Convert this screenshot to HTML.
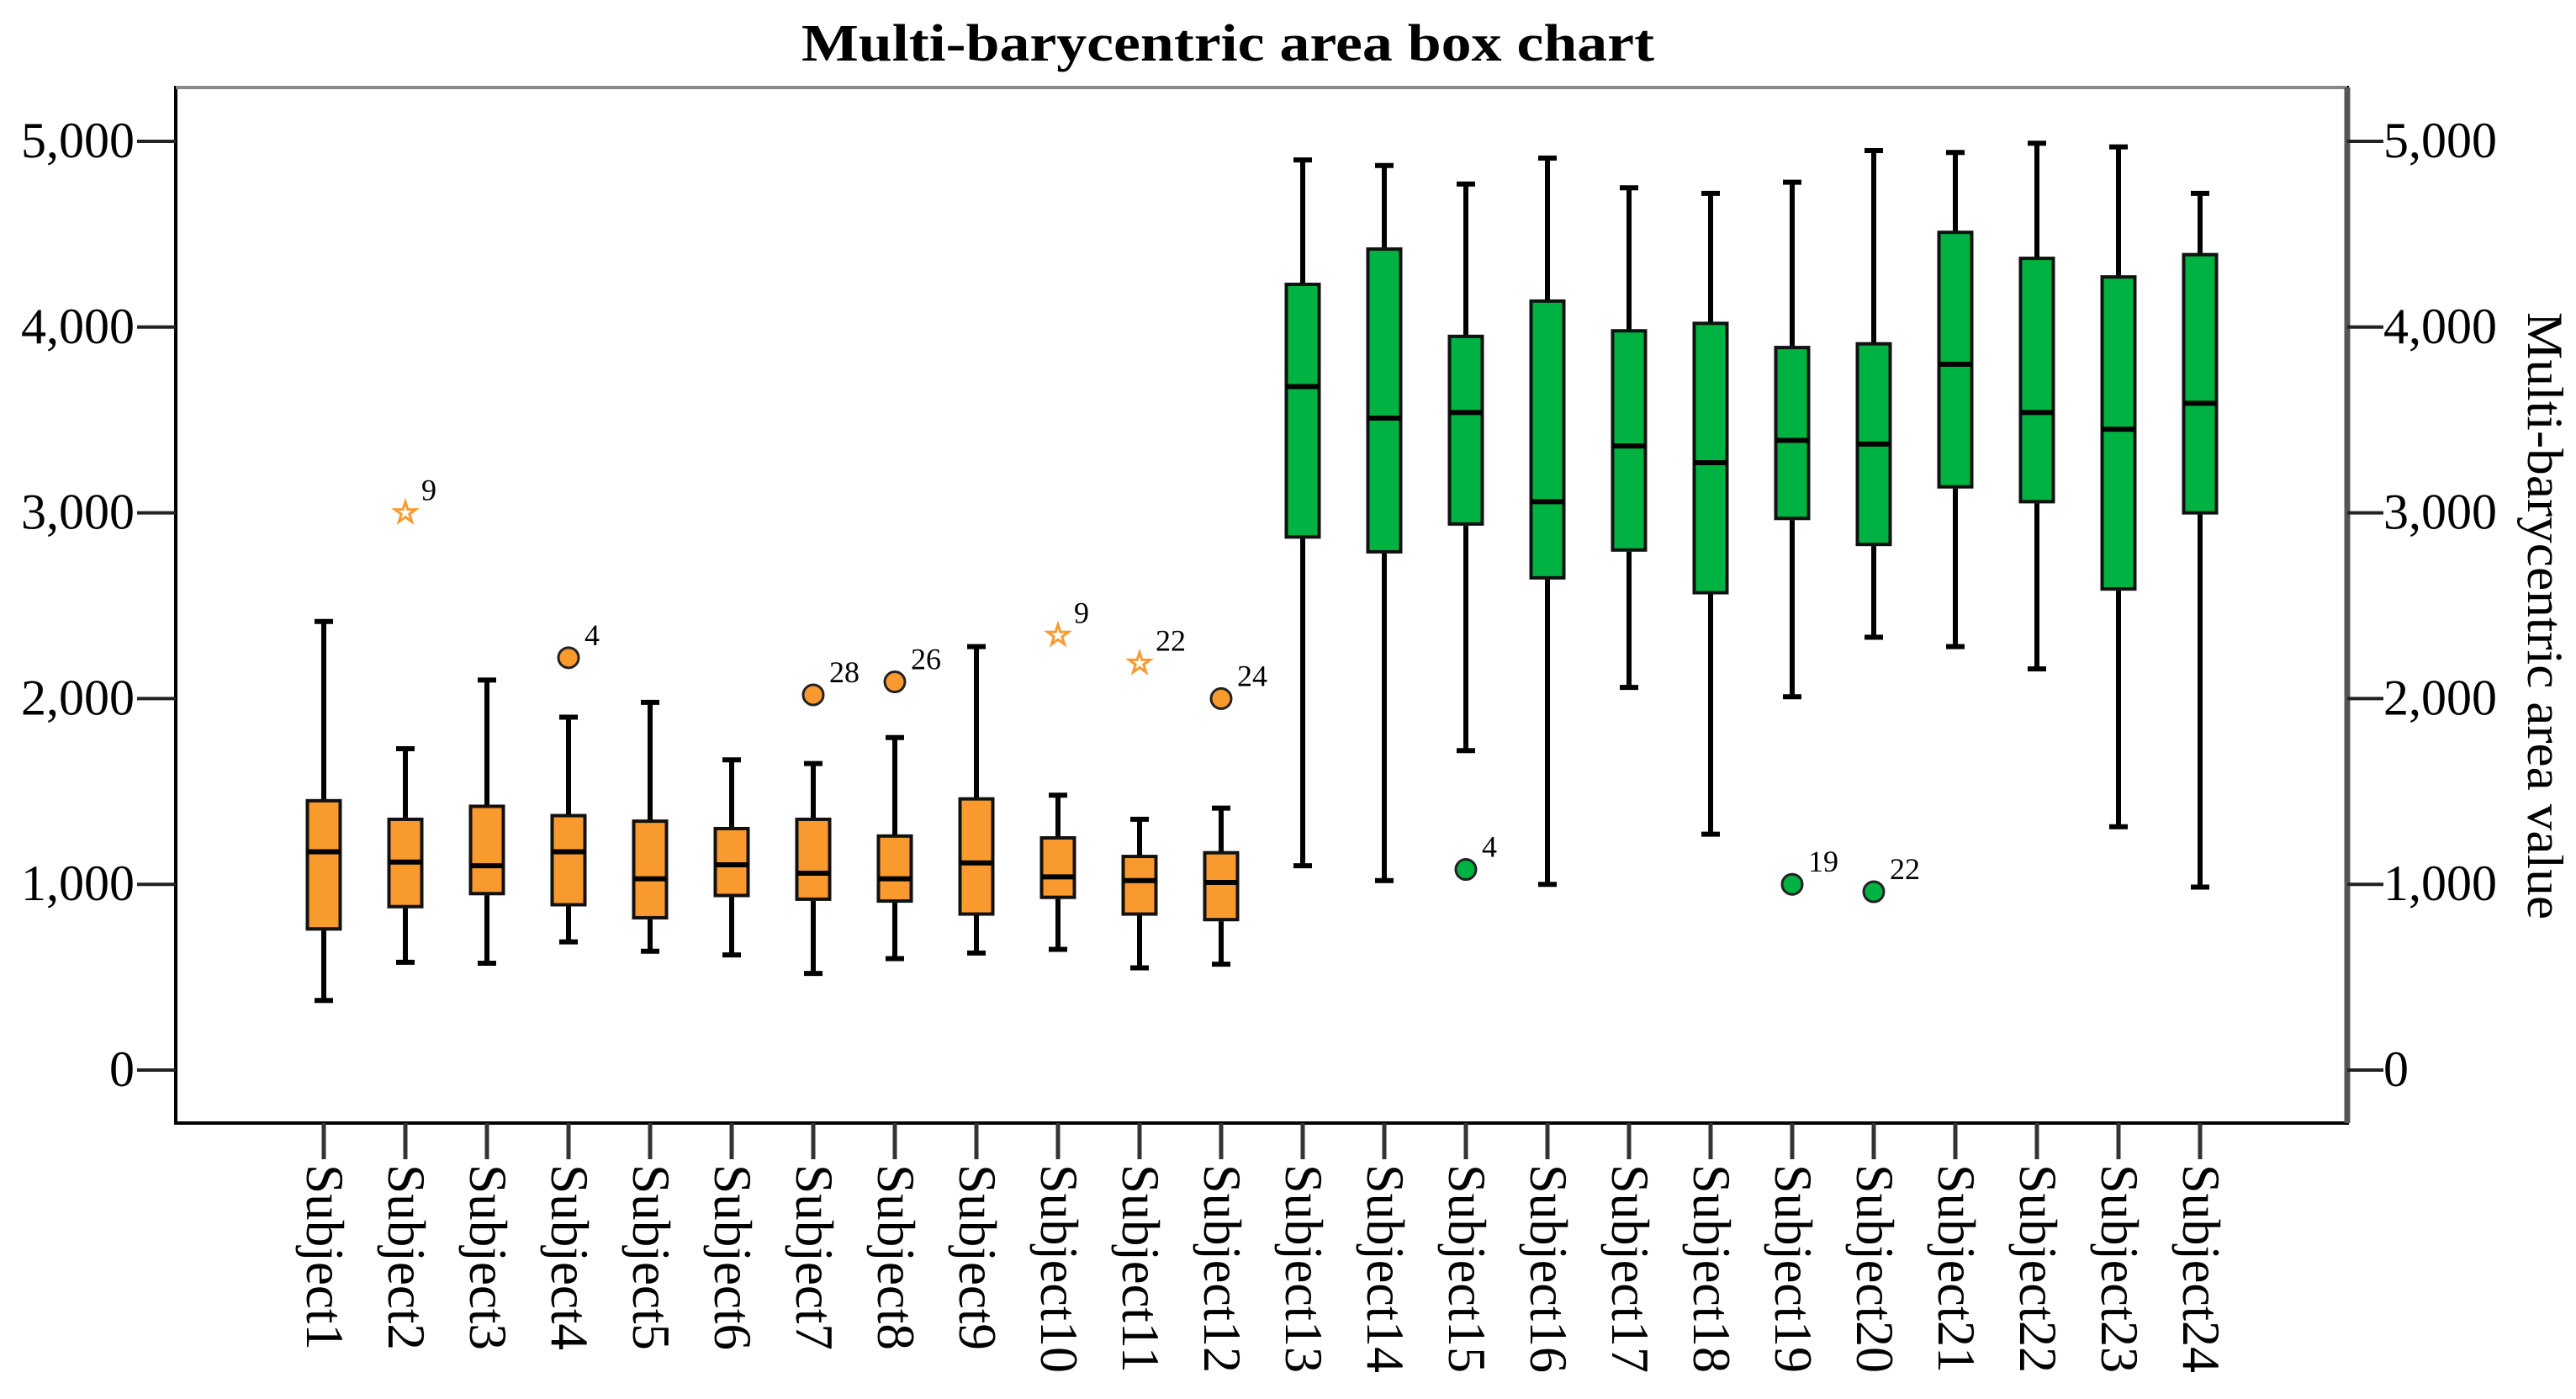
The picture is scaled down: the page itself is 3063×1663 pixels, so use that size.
<!DOCTYPE html>
<html><head><meta charset="utf-8"><style>
html,body{margin:0;padding:0;background:#fff;}
svg{display:block;}
text{font-family:"Liberation Serif",serif;fill:#000;}
</style></head><body>
<svg id="chart" width="3063" height="1663" viewBox="0 0 3063 1663" xmlns="http://www.w3.org/2000/svg">
<text x="1460" y="72" text-anchor="middle" font-size="62" font-weight="bold" textLength="1014" lengthAdjust="spacingAndGlyphs">Multi-barycentric area box chart</text>
<rect x="209" y="104" width="2582" height="1231" fill="none" stroke="#000" stroke-width="4"/>
<line x1="209" y1="104" x2="2791" y2="104" stroke="#888" stroke-width="4"/>
<line x1="2791" y1="104" x2="2791" y2="1335" stroke="#555" stroke-width="7"/>
<g id="yaxis-left"></g>
<g id="yaxis-right"></g>
<g id="boxes"></g>
<g id="xaxis"></g>
<text transform="translate(3006,732) rotate(90)" text-anchor="middle" font-size="60" textLength="722" lengthAdjust="spacingAndGlyphs">Multi-barycentric area value</text>
</svg>
<script>
const categories=["Subject1","Subject2","Subject3","Subject4","Subject5","Subject6","Subject7","Subject8","Subject9","Subject10","Subject11","Subject12","Subject13","Subject14","Subject15","Subject16","Subject17","Subject18","Subject19","Subject20","Subject21","Subject22","Subject23","Subject24"];
const groups=["o","o","o","o","o","o","o","o","o","o","o","o","g","g","g","g","g","g","g","g","g","g","g","g"];
const whiskerLow=[375,580,575,690,640,620,520,600,630,650,550,570,1100,1020,1720,1000,2060,1270,2010,2330,2280,2160,1310,985];
const q1=[760,880,950,890,820,940,920,910,840,930,840,810,2870,2790,2940,2650,2800,2570,2970,2830,3140,3060,2590,3000];
const median=[1175,1120,1100,1175,1030,1105,1060,1030,1115,1040,1020,1010,3680,3510,3540,3060,3360,3270,3390,3370,3800,3540,3450,3590];
const q3=[1450,1350,1420,1370,1340,1300,1350,1260,1460,1250,1150,1170,4230,4420,3950,4140,3980,4020,3890,3910,4510,4370,4270,4390];
const whiskerHigh=[2415,1730,2100,1900,1980,1670,1650,1790,2280,1480,1350,1410,4900,4870,4770,4910,4750,4720,4780,4950,4940,4990,4970,4720];
const outlierIdx=[1,3,6,7,9,10,11,14,18,19];
const outlierVal=[3000,2220,2020,2090,2340,2190,2000,1080,1000,960];
const outlierType=["star","circle","circle","circle","star","star","circle","circle","circle","circle"];
const outlierLabel=["9","4","28","26","9","22","24","4","19","22"];
const yTicks=[0,1000,2000,3000,4000,5000];
const yTickLabels=["0","1,000","2,000","3,000","4,000","5,000"];

const NS="http://www.w3.org/2000/svg";
const y=v=>1272-(v/5000)*(1272-168);
const x=i=>385+i*97;
function mk(tag,attrs,parent){const e=document.createElementNS(NS,tag);for(const k in attrs)e.setAttribute(k,attrs[k]);parent.appendChild(e);return e;}
const yl=document.getElementById('yaxis-left'),yr=document.getElementById('yaxis-right'),bx=document.getElementById('boxes'),xa=document.getElementById('xaxis');
yTicks.forEach((t,i)=>{
  const l=mk('line',{x1:163,x2:209,y1:y(t),y2:y(t),stroke:'#222','stroke-width':4},yl);
  
  
  const tx=mk('text',{x:160,y:y(t)+19,'text-anchor':'end','font-size':60},yl);
  tx.textContent=yTickLabels[i];
  
  
  const r=mk('line',{x1:2791,x2:2834,y1:y(t),y2:y(t),stroke:'#222','stroke-width':4},yr);
  
  
  const tr=mk('text',{x:2834,y:y(t)+19,'text-anchor':'start','font-size':60},yr);
  tr.textContent=yTickLabels[i];
  
  
});
categories.forEach((c,i)=>{
  const cx=x(i), fill=groups[i]==='o'?'#F99A2E':'#00B242', w=39;
  const g=mk('g',{},bx);
  
  
  mk('line',{x1:cx,x2:cx,y1:y(whiskerHigh[i]),y2:y(whiskerLow[i]),stroke:'#000','stroke-width':6},g);
  mk('line',{x1:cx-11,x2:cx+11,y1:y(whiskerHigh[i]),y2:y(whiskerHigh[i]),stroke:'#000','stroke-width':6},g);
  mk('line',{x1:cx-11,x2:cx+11,y1:y(whiskerLow[i]),y2:y(whiskerLow[i]),stroke:'#000','stroke-width':6},g);
  mk('rect',{x:cx-w/2-2,y:y(q3[i])-1,width:w+4,height:y(q1[i])-y(q3[i])+3,fill:'#999'},g);
  mk('rect',{x:cx-w/2,y:y(q3[i]),width:w,height:y(q1[i])-y(q3[i]),fill:fill,stroke:'#111','stroke-width':4},g);
  mk('line',{x1:cx-w/2,x2:cx+w/2,y1:y(median[i]),y2:y(median[i]),stroke:'#000','stroke-width':6},g);
  const tk=mk('line',{x1:cx,x2:cx,y1:1335,y2:1378,stroke:'#333','stroke-width':5},xa);
  
  
  const lb=mk('text',{transform:`translate(${cx-20},1384) rotate(90)`,'font-size':64,textLength:(c.length>8?248:221),lengthAdjust:'spacingAndGlyphs'},xa);
  lb.textContent=c;
  
  
});
outlierIdx.forEach((ci,k)=>{
  const cx=x(ci), cy=y(outlierVal[k]), fill=groups[ci]==='o'?'#F99A2E':'#00B242';
  let m;
  if(outlierType[k]==='circle'){
    m=mk('circle',{cx:cx,cy:cy,r:12,fill:fill,stroke:'#222','stroke-width':3},bx);
  } else {
    const pts=[];for(let j=0;j<10;j++){const a=-Math.PI/2+j*Math.PI/5,r=j%2?5:13;pts.push((cx+r*Math.cos(a)).toFixed(1)+','+(cy+r*Math.sin(a)).toFixed(1));}
    m=mk('polygon',{points:pts.join(' '),fill:'none',stroke:'#F99A2E','stroke-width':3},bx);
  }
  
  
  const t=mk('text',{x:cx+19,y:cy-15,'font-size':36},bx);
  t.textContent=outlierLabel[k];
  
  
});
</script>
</body></html>
